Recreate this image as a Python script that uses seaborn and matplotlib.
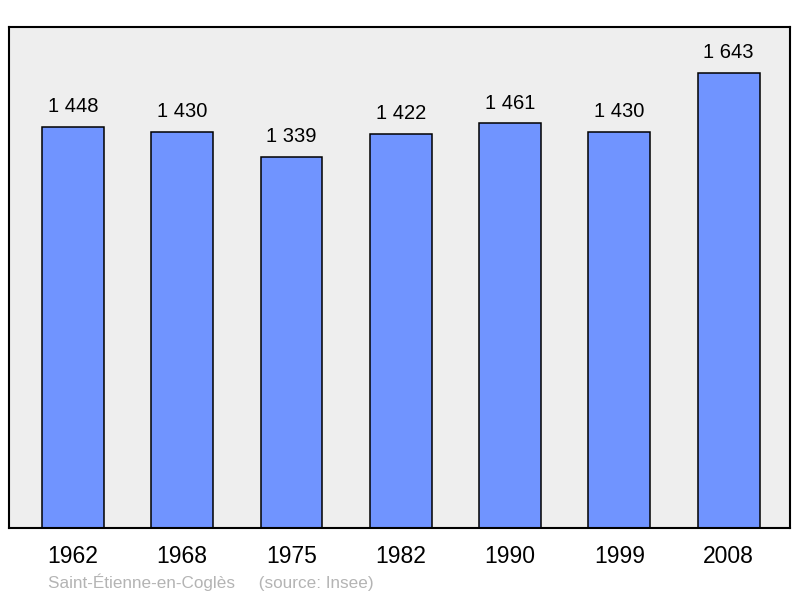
import matplotlib
matplotlib.use("Agg")
import matplotlib.pyplot as plt
import seaborn as sns
import pandas as pd

# Population data (source: Insee)
years = ["1962", "1968", "1975", "1982", "1990", "1999", "2008"]
population = [1448, 1430, 1339, 1422, 1461, 1430, 1643]
commune = "Saint-Étienne-en-Coglès"

BAR_COLOR = "#7094ff"
BG_COLOR = "#eeeeee"

sns.set_style("white")
plt.rcParams['font.family'] = ['Liberation Sans', 'DejaVu Sans']

df = pd.DataFrame({"year": years, "pop": population})

fig = plt.figure(figsize=(8, 5.98), dpi=100)
ax = fig.add_axes([0.01125, 0.117, 0.976, 0.838])
ax.set_facecolor(BG_COLOR)

sns.barplot(data=df, x="year", y="pop", color=BAR_COLOR, saturation=1,
            edgecolor="black", linewidth=1.1, width=0.567, ax=ax)

# Value labels above bars
for i, v in enumerate(population):
    label = f"{v:,}".replace(",", " ")
    ax.text(i, v + 38, label, ha="center", va="bottom", fontsize=14.5, color="black")

ax.set_xlim(-0.585, 6.56)
ax.set_ylim(0, 1808)
ax.set_xlabel("")
ax.set_ylabel("")
ax.set_yticks([])
ax.tick_params(axis="x", length=0, pad=12, labelsize=16.5, labelcolor="black")
for s in ax.spines.values():
    s.set_visible(True)
    s.set_color("black")
    s.set_linewidth(1.5)

fig.text(0.06, 0.012, commune + "     (source: Insee)", fontsize=12.3, color="#b4b4b4",
         ha="left", va="bottom")

fig.savefig("out.png", dpi=100, facecolor="white")
